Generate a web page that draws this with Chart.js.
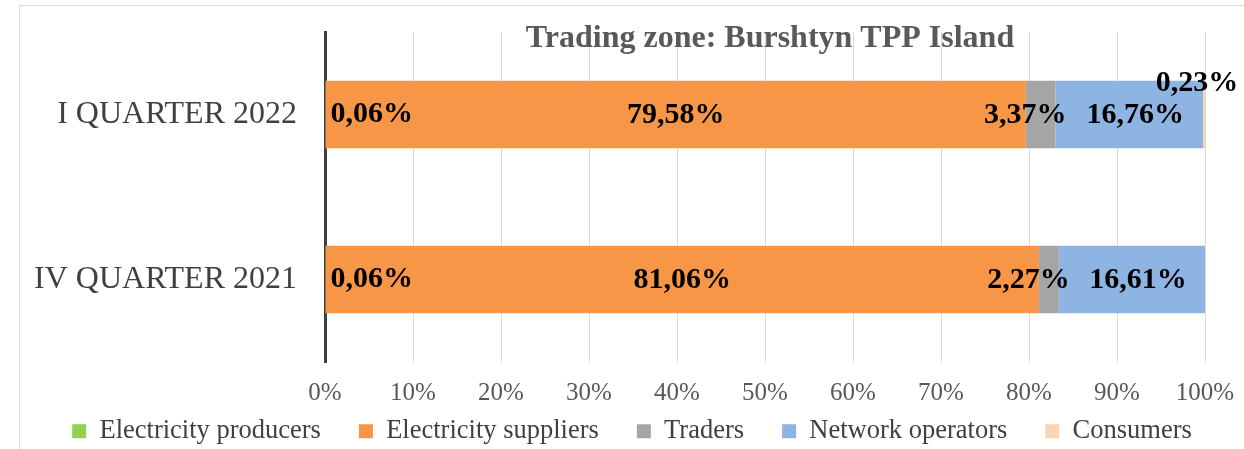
<!DOCTYPE html>
<html>
<head>
<meta charset="utf-8">
<title>Trading zone: Burshtyn TPP Island</title>
<script src="https://cdn.jsdelivr.net/npm/chart.js@4.4.1/dist/chart.umd.min.js"></script>
<style>
  html, body { margin: 0; padding: 0; background: #fff; overflow: hidden; }
  canvas { display: block; }
</style>
</head>
<body>
<canvas id="tradingChart" width="1244" height="449"></canvas>
<script>
// Dados (percentagens por trimestre)
const categories = ['I QUARTER 2022', 'IV QUARTER 2021'];
const seriesNames = ['Electricity producers', 'Electricity suppliers', 'Traders', 'Network operators', 'Consumers'];
const producers = [0.06, 0.06];
const suppliers = [79.58, 81.06];
const traders = [3.37, 2.27];
const networkOperators = [16.76, 16.61];
const consumers = [0.23, 0];
const chartTitle = 'Trading zone: Burshtyn TPP Island';

const seriesValues = [producers, suppliers, traders, networkOperators, consumers];
const seriesColors = ['#92D050', '#F79646', '#A5A5A5', '#8EB4E3', '#FCD5B5'];

const serif = "'Liberation Serif', 'Times New Roman', serif";

function fmt(v) {
  return v.toFixed(2).replace('.', ',') + '%';
}

// Moldura cinza à volta do gráfico
const framePlugin = {
  id: 'frame',
  beforeDraw(chart) {
    const ctx = chart.ctx;
    ctx.save();
    ctx.strokeStyle = '#D9D9D9';
    ctx.lineWidth = 1;
    ctx.strokeRect(19.5, 5.5, 1400, 600);
    ctx.restore();
  }
};

// A legenda ocupa pouco espaço no layout e depois sobe para junto dos rótulos do eixo
const legendPlacePlugin = {
  id: 'legendPlace',
  afterInit(chart) {
    const lg = chart.legend;
    const fit = lg.fit;
    lg.fit = function() {
      fit.call(this);
      this.height = 39;
    };
  },
  afterLayout(chart) {
    // só o topo muda: o recorte da legenda vai de top até bottom
    chart.legend.top = 380;
    chart.legend.left = 20;
  }
};

// Título desenhado por cima da área do gráfico
const titlePlugin = {
  id: 'overlayTitle',
  afterDraw(chart) {
    const ctx = chart.ctx;
    const area = chart.chartArea;
    ctx.save();
    ctx.font = "bold 32px " + serif;
    ctx.fillStyle = '#595959';
    ctx.textAlign = 'center';
    ctx.textBaseline = 'middle';
    ctx.fillText(chartTitle, (area.left + area.right) / 2 + 5, area.top + 7);
    ctx.restore();
  }
};

// Rótulos de dados em cada segmento
const labelPlugin = {
  id: 'segmentLabels',
  afterDatasetsDraw(chart) {
    const ctx = chart.ctx;
    ctx.save();
    ctx.font = "bold 30px " + serif;
    ctx.fillStyle = '#000';
    ctx.textBaseline = 'middle';
    chart.data.datasets.forEach((ds, i) => {
      const meta = chart.getDatasetMeta(i);
      meta.data.forEach((bar, j) => {
        const v = ds.data[j];
        if (!v) return;
        const left = Math.min(bar.x, bar.base);
        const right = Math.max(bar.x, bar.base);
        let x = (left + right) / 2;
        let y = bar.y + 1;
        ctx.textAlign = 'center';
        if (i === 0) {
          ctx.textAlign = 'left';
          x = left + 5;
          y = bar.y;
        } else if (i === 2) {
          ctx.textAlign = 'right';
          x = right + 11;
        } else if (i === 3) {
          x = x + 6;
        } else if (i === 4) {
          x = x - 7;
          y = bar.y - bar.height / 2 + 3;
        }
        ctx.fillText(fmt(v), x, y);
      });
    });
    ctx.restore();
  }
};

const ctx = document.getElementById('tradingChart').getContext('2d');
new Chart(ctx, {
  type: 'bar',
  data: {
    labels: categories,
    datasets: seriesNames.map((name, i) => ({
      label: name,
      data: seriesValues[i],
      backgroundColor: seriesColors[i],
      borderWidth: 0,
      categoryPercentage: 1,
      barPercentage: 0.41
    }))
  },
  options: {
    indexAxis: 'y',
    responsive: false,
    animation: false,
    layout: {
      padding: { left: 0, right: 0, top: 32, bottom: 0 }
    },
    scales: {
      x: {
        stacked: true,
        min: 0,
        max: 100,
        afterFit: scale => {
          scale.height = 48;
          scale.paddingRight = 39;
        },
        grid: { color: '#D9D9D9', lineWidth: 1, drawTicks: false },
        border: { display: false },
        ticks: {
          stepSize: 10,
          padding: 16,
          color: '#595959',
          font: { family: serif, size: 25 },
          callback: v => v + '%'
        }
      },
      y: {
        stacked: true,
        afterFit: scale => {
          scale.width = 325;
          scale.paddingTop = 0;
          scale.paddingBottom = 0;
        },
        grid: { display: false, drawTicks: false },
        border: { display: true, color: '#404040', width: 3 },
        ticks: {
          padding: 28,
          color: '#404040',
          font: { family: serif, size: 32 }
        }
      }
    },
    plugins: {
      legend: {
        position: 'bottom',
        labels: {
          boxWidth: 14,
          boxHeight: 14,
          padding: 38,
          color: '#404040',
          font: { family: serif, size: 26.5 }
        }
      },
      title: { display: false },
      tooltip: { enabled: false }
    }
  },
  plugins: [framePlugin, legendPlacePlugin, titlePlugin, labelPlugin]
});
</script>
</body>
</html>
